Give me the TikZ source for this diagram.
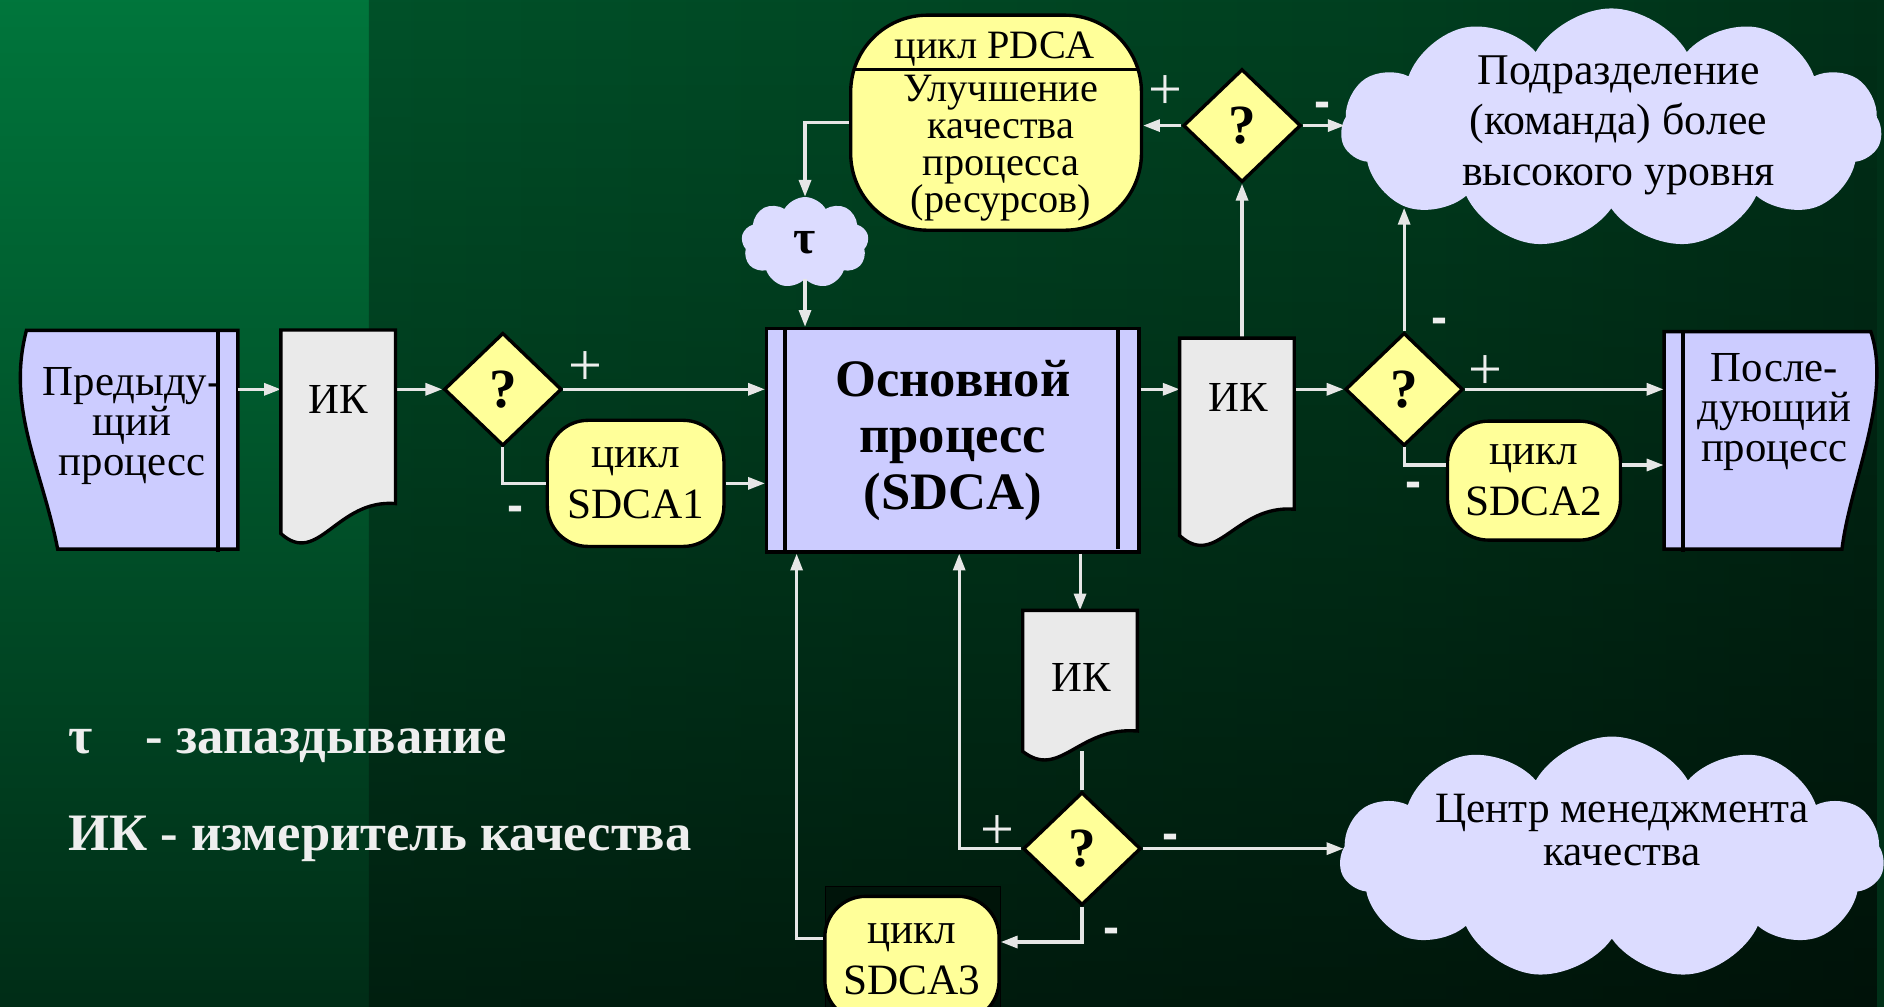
\documentclass[tikz,border=0pt]{standalone}
\usepackage{fontspec}
\setmainfont{Liberation Serif}
\newfontfamily\signfont{Liberation Sans}
\usetikzlibrary {arrows.meta}
\usetikzlibrary {shapes.geometric}
\usetikzlibrary {shapes.symbols}
\usetikzlibrary {calc}
\usetikzlibrary {fadings}

\definecolor{procblue}{HTML}{CCCCFF}
\definecolor{cloudblue}{HTML}{DCDCFF}
\definecolor{docgray}{HTML}{EAEAEA}
\definecolor{cycyellow}{HTML}{FFFF99}
\definecolor{wireclr}{HTML}{E6E6E6}
\definecolor{signclr}{HTML}{EEEEEE}
\definecolor{bgL}{RGB}{0,118,60}
\definecolor{bgA}{RGB}{0,95,48}
\definecolor{bgB}{RGB}{0,62,31}
\definecolor{bgC}{RGB}{0,35,18}
\definecolor{bgD}{RGB}{0,5,3}

\pgfdeclarehorizontalshading{bgshade}{100bp}{color(0bp)=(bgA); color(60bp)=(bgB); color(88bp)=(bgC); color(100bp)=(bgD)}
\tikzfading[name=fadedown, top color=transparent!100, bottom color=transparent!38]

\tikzset{
  wire/.style={draw=wireclr, line width=2.6pt},
  arr/.style={wire, -{Triangle[length=14pt, width=10pt]}},
  blackline/.style={draw=black, line width=2.8pt},
  procbox/.style={blackline, fill=procblue},
  proctext/.style={inner sep=0pt, align=center, font=\fontsize{35.6}{33.3}\selectfont},
  mainbox/.style={procbox, minimum width=310pt, minimum height=186pt, inner sep=0pt, align=center,
    font=\fontsize{43.8}{47}\selectfont\bfseries},
  cyclebox/.style={blackline, fill=cycyellow, rounded corners=34pt, minimum width=147pt,
    minimum height=104pt, inner sep=0pt, align=center, font=\fontsize{36}{42.4}\selectfont},
  pdcabox/.style={blackline, fill=cycyellow, rounded corners=64pt, minimum width=242pt, minimum height=179pt},
  pdcatext/.style={inner sep=0pt, align=center, font=\fontsize{33.5}{30.6}\selectfont},
  decision/.style={diamond, blackline, fill=cycyellow, minimum width=98pt, minimum height=94pt,
    inner sep=0pt, font=\fontsize{46}{46}\selectfont\bfseries},
  meter/.style={minimum width=95pt, inner sep=0pt},
  meterline/.style={blackline, fill=docgray},
  metertext/.style={anchor=base, inner sep=0pt, font=\fontsize{35.6}{35.6}\selectfont},
  puff/.style={cloud, cloud puffs=11, cloud puff arc=120, cloud ignores aspect, fill=cloudblue, inner sep=0pt},
  cloudtext/.style={inner sep=0pt, align=center, font=\fontsize{36.5}{42}\selectfont},
  plussign/.style={anchor=base, inner sep=0pt, text=signclr, font=\fontsize{50}{50}\selectfont},
  minussign/.style={anchor=base, inner sep=0pt, text=signclr, font=\signfont\bfseries\fontsize{40}{40}\selectfont},
  legend/.style={anchor=base west, inner sep=0pt, text=signclr, font=\fontsize{43.8}{47}\selectfont\bfseries},
}

\begin{document}
\begin{tikzpicture}[x=1pt, y=-1pt]
        \useasboundingbox (0,0) rectangle (1568,838);
        \clip (0,0) rectangle (1568,838);
        % фон
        \fill[bgL] (0,0) rectangle (307,838);
        \shade[shading=bgshade] (307,0) rectangle (1568,838);
        \fill[black, path fading=fadedown] (0,0) rectangle (1568,838);
        % предыдущий и последующий процессы
        \draw[procbox] (48,457) .. controls (35,390) and (5,340) .. (22,275) -- (198,275) -- (198,457) -- cycle;
        \draw[blackline] (181.5,275) -- (181.5,459.5);
        \draw[procbox] (1557,276) .. controls (1575,330) and (1540,400) .. (1533,457) -- (1385,457) -- (1385,276) -- cycle;
        \draw[blackline] (1400.7,276) -- (1400.7,459.5);
        \node[proctext, minimum width=176pt] (prev) at (110,354.4) {Предыду-\\щий\\процесс};
        \node[proctext, minimum width=184pt] (next) at (1476.7,343.2) {После-\\дующий\\процесс};
        % основной процесс
        \node[mainbox] (main) at (793,366.4) {Основной\\процесс\\(SDCA)};
        \draw[blackline] ($(main.north west)+(16.8,0)$) -- ($(main.south west)+(16.8,0)$);
        \draw[blackline] ($(main.north east)+(-18.8,0)$) -- ($(main.south east)+(-18.8,-4)$);
        % циклы
        \node[cyclebox, minimum height=105pt] (sdca1) at (529,402.3) {цикл\\SDCA1};
        \node[cyclebox, minimum width=144pt, minimum height=99pt] (sdca2) at (1276.7,400) {цикл\\SDCA2};
        \fill[black, fill opacity=0.35] (686.6,737.7) rectangle (832.5,860);
        \draw[black, line width=0.8pt] (686.6,860) -- (686.6,737.7) -- (832.5,737.7) -- (832.5,860);
        \node[cyclebox, minimum width=145pt] (sdca3) at (759,798) {цикл\\SDCA3};
        \node[pdcabox] (pdca) at (829,102.1) {};
        % проверки
        \node[decision] (q1) at (418.5,324) {?};
        \node[decision] (q2) at (1168.6,324) {?};
        \node[decision] (qtop) at (1033.7,104.5) {?};
        \node[decision] (q3) at (900.5,706.3) {?};
        % измерители качества
        \node[meter, minimum height=169pt] (ik1) at (281.5,359.4) {};
        \node[meter, minimum height=164pt] (ik2) at (1029.5,363.6) {};
        \node[meter, minimum height=117pt] (ik3) at (898.9,566.7) {};
        % облака
        \node[puff, minimum width=450pt, minimum height=200pt] (cloud1) at (1341,107) {};
        \node[puff, minimum width=453pt, minimum height=202pt] (cloud2) at (1341.5,714) {};
        \node[puff, cloud puffs=9, minimum width=106pt, minimum height=76pt,
              font=\fontsize{40}{40}\selectfont\bfseries] (tau) at (670,202) {τ};
        \node[cloudtext] (cloud1txt) at (1347,104.3) {Подразделение\\(команда) более\\высокого уровня};
        \node[cloudtext, font=\fontsize{36}{36}\selectfont] (cloud2txt) at (1350,691) {Центр менеджмента\\качества};
        % связи
        \coordinate (s2in) at ([yshift=13pt]sdca2.west);
        \coordinate (s2out) at ([yshift=13pt]sdca2.east);
        \coordinate (s3in) at ([yshift=14pt]sdca3.east);
        \coordinate (s3out) at ([yshift=17pt]sdca3.west);
        \coordinate (m1in) at ($(main.south west)+(26.4,0)$);
        \coordinate (m2in) at ($(main.south west)+(161.7,0)$);
        \coordinate (c1bot) at ($(cloud1.center)+(0,66)$);
        \draw[arr] (prev.east |- q1) -- (ik1.west |- q1);
        \draw[arr] (ik1.east |- q1) -- (q1.west);
        \draw[arr] (q1.east) -- (q1.east -| main.west);
        \draw[wire] (q1.south) |- (sdca1.west);
        \draw[arr] (sdca1.east) -- (sdca1.east -| main.west);
        \draw[arr] (main.east |- q2) -- (ik2.west |- q2);
        \draw[arr] (ik2.east |- q2) -- (q2.west);
        \draw[arr] (q2.east) -- (q2.east -| next.west);
        \draw[wire] (q2.south) |- (s2in);
        \draw[arr] (s2out) -- (s2out -| next.west);
        \draw[arr] (q2.north) -- (q2.north |- c1bot);
        \draw[arr] (qtop.south |- ik2.north) -- (qtop.south);
        \draw[arr] (qtop.west) -- (qtop.west -| pdca.east);
        \draw[arr] (qtop.east) -- ($(qtop.east -| cloud1.west)+(3,0)$);
        \draw[arr] (pdca.west) -| (tau.north);
        \draw[arr] (tau.south) -- (tau.south |- main.north);
        \draw[arr] (ik3.north |- main.south) -- (ik3.north);
        \draw[wire] (q3.north) -- (q3.north |- ik3.south);
        \draw[arr] (q3.west) -| (m2in);
        \draw[arr] (q3.east) -- ($(q3.east -| cloud2.west)+(3,0)$);
        \draw[arr] (q3.south) |- (s3in);
        \draw[arr] (s3out) -| (m1in);
        % контуры ИК
        \draw[meterline] (ik1.north west) -- (ik1.north east) -- ($(ik1.south east)+(0,-25)$)
              .. controls +(-49,-4) and +(31,28) .. (ik1.south west) -- cycle;
        \draw[meterline] (ik2.north west) -- (ik2.north east) -- ($(ik2.south east)+(0,-22)$)
              .. controls +(-49,-4) and +(31,28) .. (ik2.south west) -- cycle;
        \draw[meterline] (ik3.north west) -- (ik3.north east) -- ($(ik3.south east)+(0,-17)$)
              .. controls +(-49,-4) and +(31,24) .. (ik3.south west) -- cycle;
        \node[metertext] (ik1txt) at (281.5,344) {ИК};
        \node[metertext] (ik2txt) at (1030.5,342.8) {ИК};
        \node[metertext] (ik3txt) at (900,575.8) {ИК};
        % PDCA
        \draw[blackline] ($(pdca.north west)+(3.5,46.5)$) -- ($(pdca.north east)+(-3.5,46.5)$);
        \node[pdcatext, anchor=base] (pdcahead) at (828,48.6) {цикл PDCA};
        \node[pdcatext] (pdcabody) at (833,123.2) {Улучшение\\качества\\процесса\\(ресурсов)};
        % знаки
        \node[plussign] (p1) at (487,321) {+};
        \node[minussign] (m1) at (428.8,434) {-};
        \node[plussign] (p2) at (970.2,91.5) {+};
        \node[minussign] (m2) at (1101,97.5) {-};
        \node[minussign] (m3) at (1198.2,277.8) {-};
        \node[plussign] (p3) at (1236.6,323.8) {+};
        \node[minussign] (m4) at (1176.6,413.9) {-};
        \node[plussign] (p4) at (829.9,706.8) {+};
        \node[minussign] (m5) at (974.3,707.2) {-};
        \node[minussign] (m6) at (925.2,785) {-};
        % легенда
        \node[legend] (tausym) at (56.5,627) {τ};
        \node[legend] (taudesc) at (121,627) {- запаздывание};
        \node[legend] (ikdesc) at (56.5,707.7) {ИК - измеритель качества};
      \end{tikzpicture}
\end{document}
